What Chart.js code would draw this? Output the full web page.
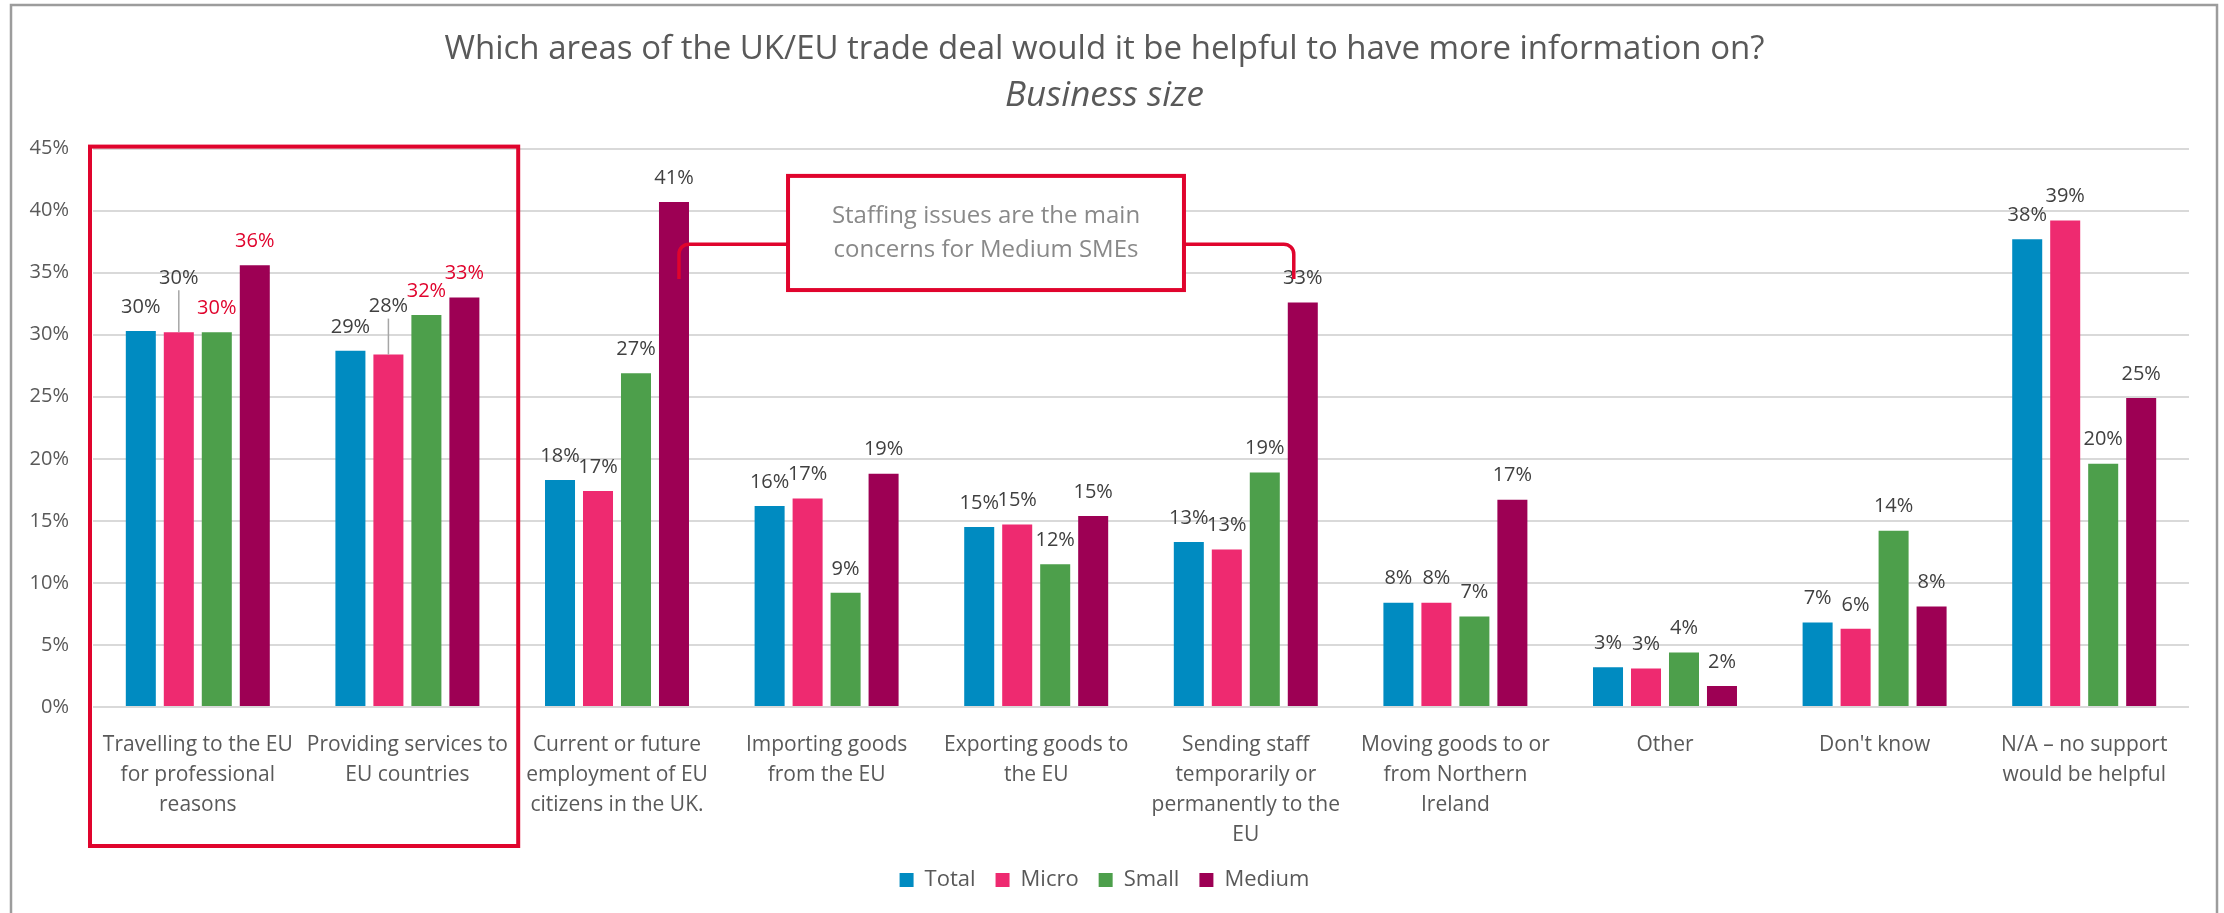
<!DOCTYPE html>
<html>
<head>
<meta charset="utf-8">
<title>UK/EU trade deal – information needs by business size</title>
<script src="https://cdn.jsdelivr.net/npm/chart.js@4.4.1/dist/chart.umd.min.js"></script>
<style>
  html, body { margin: 0; padding: 0; background: #fff; }
</style>
</head>
<body>
<canvas id="chart" width="2224" height="913"></canvas>
<script>
// ── DATA ───────────────────────────────────────────────────────────
const categories = [
  ['Travelling to the EU', 'for professional', 'reasons'],
  ['Providing services to', 'EU countries'],
  ['Current or future', 'employment of EU', 'citizens in the UK.'],
  ['Importing goods', 'from the EU'],
  ['Exporting goods to', 'the EU'],
  ['Sending staff', 'temporarily or', 'permanently to the', 'EU'],
  ['Moving goods to or', 'from Northern', 'Ireland'],
  ['Other'],
  ["Don't know"],
  ['N/A – no support', 'would be helpful']
]
const seriesNames = ['Total', 'Micro', 'Small', 'Medium']
const totalPct  = [30.3, 28.7, 18.3, 16.2, 14.5, 13.3, 8.4, 3.2, 6.8, 37.7]
const microPct  = [30.2, 28.4, 17.4, 16.8, 14.7, 12.7, 8.4, 3.1, 6.3, 39.2]
const smallPct  = [30.2, 31.6, 26.9, 9.2, 11.5, 18.9, 7.3, 4.4, 14.2, 19.6]
const mediumPct = [35.6, 33.0, 40.7, 18.8, 15.4, 32.6, 16.7, 1.7, 8.1, 24.9]
const yTickValues = [0, 5, 10, 15, 20, 25, 30, 35, 40, 45]

const calloutLines = ['Staffing issues are the main', 'concerns for Medium SMEs']

// ── STYLE ──────────────────────────────────────────────────────────
const COLORS = ['#008bc1', '#ee2a70', '#4d9f4b', '#9d0054']
const RED = '#e0042d'
const TEXT = '#595959'
const LABEL = '#404040'
const FONT = "'Open Sans', sans-serif"

// labels shown in red: dataset index -> category indices
const redLabels = { 2: [0, 1], 3: [0, 1] }
// labels lifted off their bar (with a leader line): "dataset:category" -> px
const labelLift = { '1:0': -30, '1:1': -24 }

Chart.defaults.font.family = FONT
Chart.defaults.color = TEXT

// value labels above each bar
const valueLabels = {
  id: 'valueLabels',
  afterDatasetsDraw(chart) {
    const { ctx } = chart
    ctx.save()
    ctx.font = '20px ' + FONT
    ctx.textAlign = 'center'
    ctx.textBaseline = 'middle'
    chart.data.datasets.forEach((ds, di) => {
      chart.getDatasetMeta(di).data.forEach((bar, i) => {
        const lift = labelLift[di + ':' + i] || 0
        const y = bar.y - 24 + lift
        if (lift) {
          ctx.strokeStyle = '#a6a6a6'
          ctx.lineWidth = 1.5
          ctx.beginPath()
          ctx.moveTo(bar.x, y + 12)
          ctx.lineTo(bar.x, bar.y)
          ctx.stroke()
        }
        ctx.fillStyle = (redLabels[di] || []).includes(i) ? RED : LABEL
        ctx.fillText(Math.round(ds.data[i]) + '%', bar.x, y)
      })
    })
    ctx.restore()
  }
}

// outer frame, highlight box around the first two groups, staffing callout
const annotations = {
  id: 'annotations',
  afterDraw(chart) {
    const { ctx, chartArea, scales: { x, y } } = chart
    ctx.save()

    ctx.strokeStyle = '#9c9c9c'
    ctx.lineWidth = 2.5
    ctx.strokeRect(11, 5, 2206, 920)

    ctx.strokeStyle = RED
    ctx.lineWidth = 4
    const hl = x.getPixelForValue(1.5) + 6
    ctx.strokeRect(chartArea.left - 3, y.getPixelForValue(45) - 2,
      hl - chartArea.left + 3, chart.legend.top - y.getPixelForValue(45) - 1)

    // callout box
    const bx0 = x.getPixelForValue(2.816), bx1 = x.getPixelForValue(4.705)
    const by0 = y.getPixelForValue(42.8), by1 = y.getPixelForValue(33.6)
    const cy = y.getPixelForValue(37.3)
    const leftBar = chart.getDatasetMeta(3).data[2]
    const rightBar = chart.getDatasetMeta(3).data[5]
    const endY = y.getPixelForValue(34.5)
    const r = 10

    ctx.lineWidth = 3.5
    ctx.beginPath()
    ctx.moveTo(bx0, cy)
    ctx.arcTo(leftBar.x + 5, cy, leftBar.x + 5, endY, r)
    ctx.lineTo(leftBar.x + 5, endY)
    ctx.stroke()

    ctx.beginPath()
    ctx.moveTo(bx1, cy)
    ctx.arcTo(rightBar.x - 9, cy, rightBar.x - 9, endY, r)
    ctx.lineTo(rightBar.x - 9, endY)
    ctx.stroke()

    ctx.fillStyle = '#fff'
    ctx.fillRect(bx0, by0, bx1 - bx0, by1 - by0)
    ctx.lineWidth = 4
    ctx.strokeRect(bx0, by0, bx1 - bx0, by1 - by0)

    ctx.fillStyle = '#898989'
    ctx.font = '24px ' + FONT
    ctx.textAlign = 'center'
    ctx.textBaseline = 'middle'
    const mid = (by0 + by1) / 2
    ctx.fillText(calloutLines[0], (bx0 + bx1) / 2, mid - 17)
    ctx.fillText(calloutLines[1], (bx0 + bx1) / 2, mid + 17)

    ctx.restore()
  }
}

const series = [totalPct, microPct, smallPct, mediumPct]

new Chart(document.getElementById('chart'), {
  type: 'bar',
  data: {
    labels: categories,
    datasets: series.map((d, i) => ({
      label: seriesNames[i],
      data: d,
      backgroundColor: COLORS[i],
      categoryPercentage: 0.725,
      barPercentage: 0.79
    }))
  },
  options: {
    responsive: false,
    animation: false,
    layout: { padding: { top: 0, left: 20, right: 35, bottom: 12 } },
    plugins: {
      title: {
        display: true,
        text: 'Which areas of the UK/EU trade deal would it be helpful to have more information on?',
        color: TEXT,
        font: { size: 33, weight: 'normal' },
        padding: { top: 30, bottom: 5 }
      },
      subtitle: {
        display: true,
        text: 'Business size',
        color: TEXT,
        font: { size: 35, style: 'italic' },
        padding: { top: 0, bottom: 32 }
      },
      legend: {
        position: 'bottom',
        labels: { color: TEXT, font: { size: 22 }, boxWidth: 14, boxHeight: 14, padding: 20 }
      },
      tooltip: { enabled: false }
    },
    scales: {
      x: {
        grid: { display: false },
        border: { display: false },
        ticks: {
          color: TEXT,
          font: { size: 21, lineHeight: 1.43 },
          padding: 15,
          autoSkip: false,
          maxRotation: 0,
          minRotation: 0
        },
        afterFit: s => { s.height = 142 }
      },
      y: {
        min: 0,
        max: 45,
        grid: { color: '#d9d9d9', lineWidth: 2, drawTicks: false },
        border: { display: false },
        afterBuildTicks: s => { s.ticks = yTickValues.map(v => ({ value: v })) },
        ticks: {
          color: TEXT,
          font: { size: 20 },
          padding: 24,
          callback: v => v + '%'
        },
        afterFit: s => { s.width = 73 }
      }
    }
  },
  plugins: [valueLabels, annotations]
})
</script>
</body>
</html>
